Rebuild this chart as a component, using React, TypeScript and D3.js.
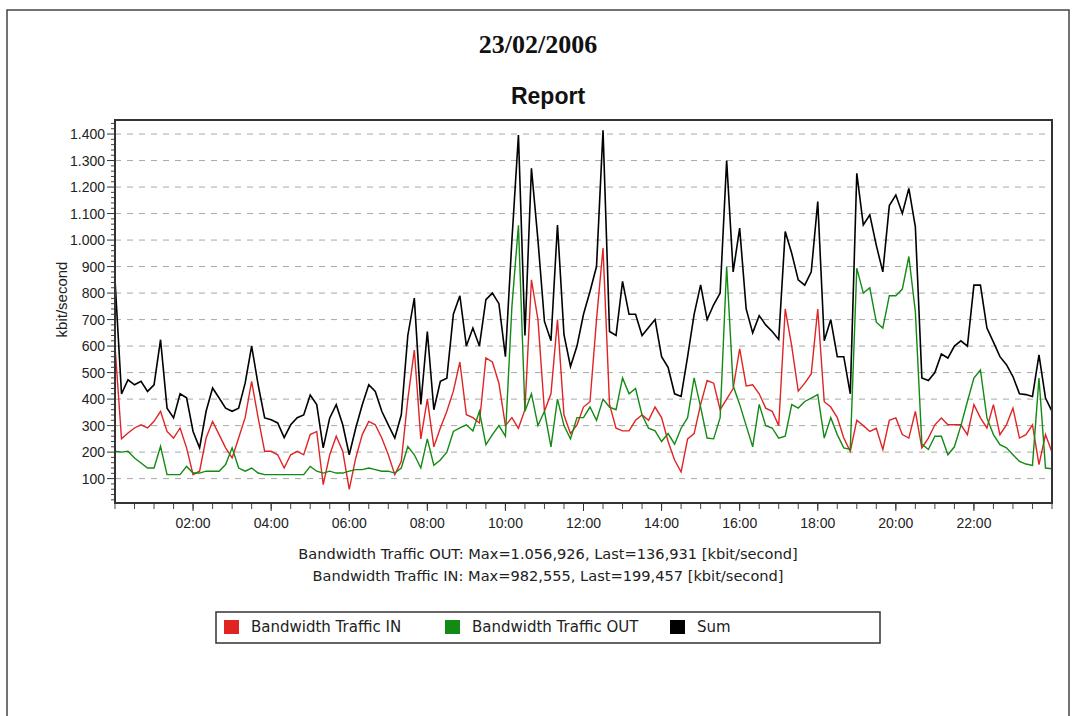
import React from "react";
import * as d3 from "d3";

// samples every 10 minutes from 00:00 to 24:00
const STEP_MINUTES = 10;

const trafficIn = [
  600, 250, 272, 291, 303, 291, 316, 354, 278, 253, 291, 216, 115, 128, 253, 316, 266, 216, 178, 253, 330, 467, 329, 203, 203,
  190, 140, 190, 203, 190, 266, 278, 77, 190, 260, 203, 59, 178, 266, 316, 303, 253, 190, 115, 165, 400, 585, 250, 400,
  220, 291, 354, 430, 540, 341, 330, 310, 555, 540, 460, 300, 330, 290, 360, 850, 700, 354, 420, 700, 340, 270, 303,
  370, 390, 700, 970, 380, 290, 280, 280, 320, 340, 320, 370, 330, 240, 170, 125, 250, 270, 380, 470, 460, 360, 400, 440,
  590, 450, 454, 420, 366, 354, 300, 740, 600, 430, 460, 495, 740, 390, 370, 330, 253, 203, 320, 300, 278, 290, 210, 320,
  329, 266, 253, 354, 216, 253, 303, 329, 303, 303, 303, 266, 379, 329, 291, 379, 266, 303, 366, 253, 266, 303, 153, 266, 199,
];

const trafficOut = [
  203, 200, 203, 178, 159, 140, 140, 222, 115, 115, 115, 146, 121, 121, 128, 128, 128, 153, 216, 140, 128, 140, 121, 115, 115,
  115, 115, 115, 115, 115, 146, 128, 121, 128, 121, 121, 128, 134, 134, 140, 134, 128, 128, 121, 140, 221, 190, 140, 250,
  150, 170, 200, 278, 291, 303, 280, 354, 228, 266, 300, 260, 750, 1056, 354, 420, 300, 354, 220, 400, 300, 250, 330,
  330, 370, 320, 400, 370, 360, 480, 420, 440, 340, 290, 280, 240, 270, 230, 290, 330, 480, 370, 253, 250, 330, 900, 450,
  380, 300, 220, 380, 300, 291, 253, 260, 379, 366, 391, 404, 417, 253, 330, 266, 216, 210, 894, 800, 820, 690, 668, 790,
  790, 815, 938, 730, 230, 210, 260, 260, 190, 220, 300, 391, 479, 510, 329, 266, 228, 216, 190, 165, 155, 150, 479, 140, 137,
];

const trafficSum = [
  850, 420, 473, 454, 467, 429, 454, 624, 366, 329, 420, 405, 278, 216, 354, 442, 404, 366, 354, 366, 460, 600, 454, 329, 322,
  310, 255, 303, 330, 340, 415, 379, 216, 329, 379, 303, 190, 291, 379, 454, 429, 354, 303, 253, 341, 640, 781, 380, 655,
  360, 467, 479, 720, 790, 600, 668, 600, 775, 800, 760, 560, 1000, 1396, 640, 1271, 1000, 693, 620, 1057, 643, 523, 600,
  720, 806, 900, 1414, 655, 640, 844, 720, 720, 640, 670, 700, 560, 520, 420, 410, 560, 720, 831, 700, 756, 800, 1300, 880,
  1045, 740, 650, 715, 680, 655, 625, 1032, 950, 850, 830, 880, 1145, 620, 700, 560, 560, 420, 1252, 1057, 1095, 980, 880, 1130,
  1170, 1100, 1195, 1050, 480, 470, 500, 570, 555, 600, 620, 600, 830, 830, 668, 615, 560, 530, 485, 420, 417, 410, 567, 404, 354,
];

const yTickValues = [100, 200, 300, 400, 500, 600, 700, 800, 900, 1000, 1100, 1200, 1300, 1400];
const xTickHours = [2, 4, 6, 8, 10, 12, 14, 16, 18, 20, 22];
const xTickLabels = ["02:00", "04:00", "06:00", "08:00", "10:00", "12:00", "14:00", "16:00", "18:00", "20:00", "22:00"];
const seriesNames = ["Bandwidth Traffic IN", "Bandwidth Traffic OUT", "Sum"];
const seriesColors = ["#e02424", "#138a13", "#000000"];
const statsLines = [
  "Bandwidth Traffic OUT: Max=1.056,926, Last=136,931 [kbit/second]",
  "Bandwidth Traffic IN: Max=982,555, Last=199,457 [kbit/second]",
];
const titleText = "23/02/2006";
const subtitleText = "Report";
const yAxisTitle = "kbit/second";

const W = 1072;
const H = 716;
const plot = { left: 115, right: 1052, top: 120, bottom: 503 };
const sans = "'Liberation Sans', Arial, sans-serif";
const wide = "'DejaVu Sans', Verdana, sans-serif";

export default function App() {
  const x = d3.scaleLinear().domain([0, 24]).range([plot.left, plot.right]);
  const y = d3.scaleLinear().domain([8, 1453]).range([plot.bottom, plot.top]);
  const hourOf = (i: number) => (i * STEP_MINUTES) / 60;
  const line = d3
    .line<number>()
    .x((_, i) => x(hourOf(i)))
    .y((d) => y(d));

  const fmt = d3.formatLocale({ decimal: ",", thousands: ".", grouping: [3], currency: ["", ""] }).format(",");

  const yMinor = d3.range(20, 1441, 20).filter((v) => v % 100 !== 0);
  const xMinor = d3.range(0, 24.001, 0.5);

  const series = [trafficIn, trafficOut, trafficSum];
  const legendX = [224, 445, 670];

  return (
    <svg
      width={W}
      height={H}
      style={{ position: "absolute", left: 0, top: 0, background: "#fff" }}
      xmlns="http://www.w3.org/2000/svg"
    >
      <rect x={0} y={0} width={W} height={H} fill="#fff" />
      <rect x={7} y={10} width={1062} height={730} fill="none" stroke="#444" strokeWidth={1.5} />

      <text x={538} y={53} textAnchor="middle" fontFamily="'Liberation Serif', 'Times New Roman', serif" fontWeight="bold" fontSize={26} fill="#111">
        {titleText}
      </text>
      <text x={548} y={104} textAnchor="middle" fontFamily={sans} fontWeight="bold" fontSize={23} fill="#111">
        {subtitleText}
      </text>

      <defs>
        <clipPath id="plotClip">
          <rect x={plot.left} y={plot.top} width={plot.right - plot.left} height={plot.bottom - plot.top} />
        </clipPath>
      </defs>

      {/* grid */}
      {yTickValues.map((v) => (
        <line key={"g" + v} x1={plot.left} x2={plot.right} y1={y(v)} y2={y(v)} stroke="#a8a8a8" strokeWidth={1} strokeDasharray="6,6" />
      ))}

      {/* y ticks */}
      {yMinor.map((v) => (
        <line key={"ym" + v} x1={plot.left - 4} x2={plot.left} y1={y(v)} y2={y(v)} stroke="#444" strokeWidth={1} />
      ))}
      {yTickValues.map((v) => (
        <g key={"yt" + v}>
          <line x1={plot.left - 8} x2={plot.left} y1={y(v)} y2={y(v)} stroke="#333" strokeWidth={1} />
          <text x={plot.left - 10} y={y(v) + 5} textAnchor="end" fontFamily={sans} fontSize={14} fill="#222">
            {fmt(v)}
          </text>
        </g>
      ))}

      {/* x ticks */}
      {xMinor.map((h) => (
        <line key={"xm" + h} x1={x(h)} x2={x(h)} y1={plot.bottom} y2={plot.bottom + 6} stroke="#444" strokeWidth={1} />
      ))}
      {xTickHours.map((h, i) => (
        <g key={"xt" + h}>
          <line x1={x(h)} x2={x(h)} y1={plot.bottom} y2={plot.bottom + 8} stroke="#333" strokeWidth={1} />
          <text x={x(h)} y={plot.bottom + 25} textAnchor="middle" fontFamily={sans} fontSize={14} fill="#222">
            {xTickLabels[i]}
          </text>
        </g>
      ))}

      <text
        transform={`translate(67, ${(plot.top + plot.bottom) / 2 - 12}) rotate(-90)`}
        textAnchor="middle"
        fontFamily={sans}
        fontSize={15}
        fill="#222"
      >
        {yAxisTitle}
      </text>

      {/* series */}
      <g clipPath="url(#plotClip)">
        {series.map((s, i) => (
          <path key={"s" + i} d={line(s) || ""} fill="none" stroke={seriesColors[i]} strokeWidth={i === 2 ? 1.6 : 1.4} strokeLinejoin="miter" />
        ))}
      </g>

      <rect x={plot.left} y={plot.top} width={plot.right - plot.left} height={plot.bottom - plot.top} fill="none" stroke="#333" strokeWidth={2} />

      {statsLines.map((t, i) => (
        <text key={"st" + i} x={548} y={559 + i * 22} textAnchor="middle" fontFamily={wide} fontSize={14.6} fill="#222">
          {t}
        </text>
      ))}

      {/* legend */}
      <rect x={216} y={612} width={664} height={31} fill="#fff" stroke="#333" strokeWidth={1.5} />
      {seriesNames.map((n, i) => (
        <g key={"lg" + i}>
          <rect x={legendX[i]} y={620} width={15} height={14} fill={seriesColors[i]} />
          <text x={legendX[i] + 27} y={632} fontFamily={wide} fontSize={15} fill="#222">
            {n}
          </text>
        </g>
      ))}
    </svg>
  );
}
